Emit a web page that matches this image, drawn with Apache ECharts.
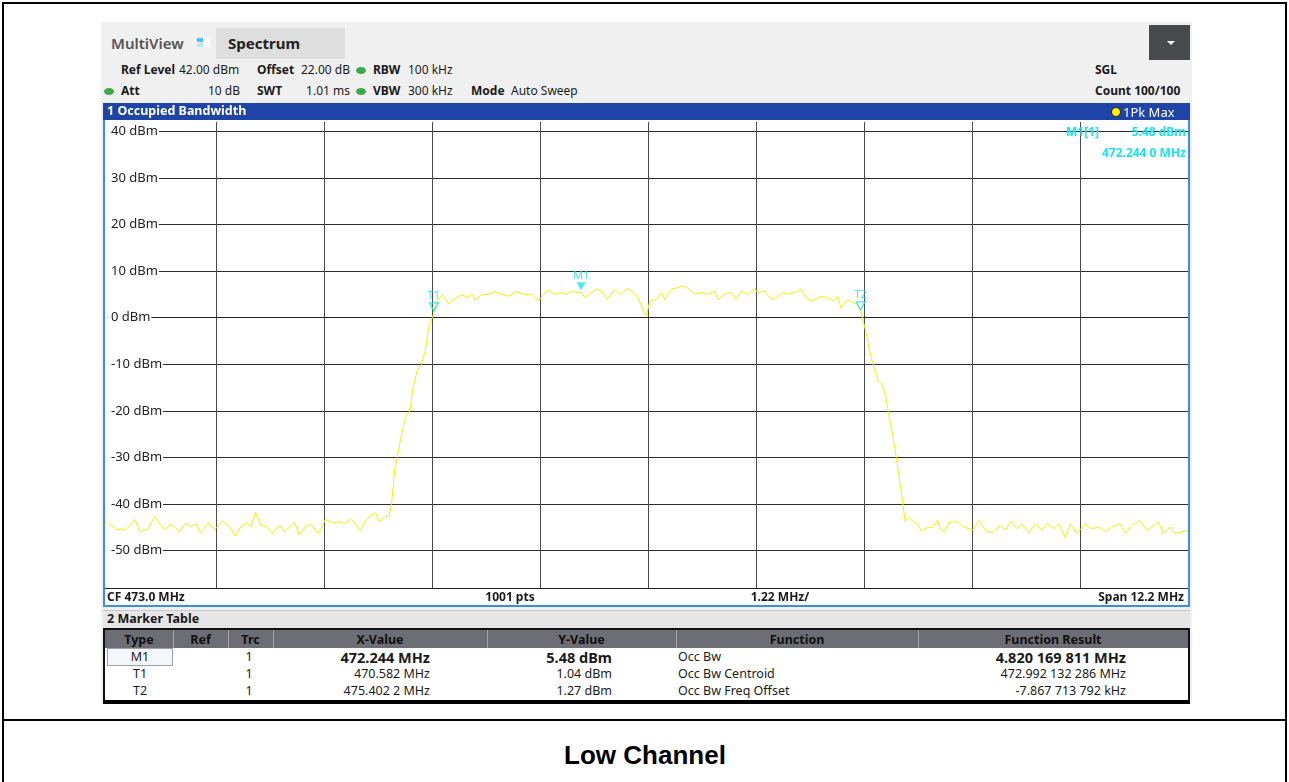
<!DOCTYPE html>
<html><head><meta charset="utf-8">
<script src="https://cdn.jsdelivr.net/npm/echarts@6/dist/echarts.min.js"></script>
<style>
html,body{margin:0;padding:0;}
body{width:1289px;height:782px;background:#fff;position:relative;overflow:hidden;font-family:'Noto Sans',sans-serif;}
.box{position:absolute;box-sizing:border-box;}
.t{position:absolute;white-space:nowrap;z-index:5;}
#chart{position:absolute;left:105px;top:120px;width:1083px;height:470px;z-index:3;}
</style></head><body>
<div class="box" style="left:2px;top:2px;width:1285px;height:800px;border:2px solid #000;"></div>
<div class="box" style="left:2px;top:719px;width:1285px;height:2px;background:#000;"></div>

<div class="box" style="left:101px;top:22px;width:1091px;height:682px;background:#f0f0f0;"></div>
<div class="box" style="left:216px;top:28px;width:129px;height:31px;background:#dedede;"></div>
<div class="box" style="left:197px;top:38px;width:6px;height:4px;background:#4fc3f7;"></div>
<div class="box" style="left:204px;top:38px;width:6px;height:4px;background:#fff;"></div>
<div class="box" style="left:197px;top:43px;width:6px;height:4px;background:#b9e6fb;"></div>
<div class="box" style="left:204px;top:43px;width:6px;height:4px;background:#fff;"></div>
<div class="box" style="left:1149px;top:25px;width:41px;height:35px;background:#474a4d;"></div>
<div class="box" style="left:1167px;top:41px;width:0;height:0;border-left:4px solid transparent;border-right:4px solid transparent;border-top:4px solid #fff;"></div>
<div class="box" style="left:356px;top:67px;width:10px;height:7px;border-radius:50%;background:#3daa48;"></div>
<div class="box" style="left:104px;top:88px;width:10px;height:7px;border-radius:50%;background:#3daa48;"></div>
<div class="box" style="left:356px;top:88px;width:10px;height:7px;border-radius:50%;background:#3daa48;"></div>

<div class="box" style="left:103px;top:103px;width:1087px;height:504px;border:2px solid #3d8ee0;background:#fff;"></div>
<div class="box" style="left:103px;top:103px;width:1087px;height:17px;background:#1d44a6;"></div>
<div class="box" style="left:1111px;top:107px;width:10px;height:10px;border-radius:50%;background:#fff200;border:1.5px solid #222;z-index:6;"></div>
<div class="box" style="left:105px;top:588px;width:1083px;height:1px;background:#222;"></div>

<div class="box" style="left:103px;top:610px;width:1087px;height:19px;background:#e6e6e6;border-top:1px solid #c8c8c8;"></div>
<div class="box" style="left:103px;top:628px;width:1087px;height:76px;border:2px solid #111;border-bottom:4px solid #000;background:#fff;"></div>
<div class="box" style="left:105px;top:630px;width:1083px;height:18px;background:#6d6d76;"></div>
<div class="box" style="left:107px;top:648px;width:66px;height:18px;border:1px solid #9aa3ad;background:#f3f7fb;"></div>

<div id="chart"></div>

<script>
// ---------- data ----------
var freqMHz = [466.900,466.990,467.103,467.204,467.260,467.351,467.429,467.497,467.542,467.610,467.711,467.779,467.835,467.891,467.948,468.027,468.105,468.195,468.274,468.342,468.398,468.466,468.511,468.567,468.624,468.702,468.759,468.838,468.894,468.950,469.007,469.063,469.130,469.187,469.277,469.356,469.435,469.513,469.581,469.637,469.694,469.750,469.806,469.863,469.919,469.964,470.020,470.077,470.091,470.103,470.141,470.167,470.204,470.260,470.310,470.344,470.392,470.441,470.486,470.524,470.553,470.582,470.598,470.674,470.749,470.806,470.899,470.955,471.012,471.049,471.124,471.200,471.274,471.331,471.425,471.519,471.594,471.688,471.763,471.820,471.876,471.950,472.026,472.082,472.138,472.195,472.244,472.288,472.364,472.420,472.476,472.533,472.626,472.682,472.777,472.833,472.890,472.946,472.983,473.020,473.096,473.152,473.189,473.265,473.321,473.397,473.471,473.527,473.603,473.678,473.753,473.791,473.865,473.941,473.997,474.053,474.129,474.203,474.241,474.316,474.372,474.428,474.523,474.579,474.654,474.729,474.786,474.861,474.954,475.030,475.086,475.143,475.180,475.255,475.312,475.368,475.402,475.424,475.461,475.518,475.555,475.600,475.650,475.687,475.724,475.762,475.799,475.837,475.875,475.904,475.949,476.006,476.044,476.089,476.156,476.213,476.269,476.306,476.351,476.400,476.494,476.569,476.663,476.738,476.813,476.889,476.982,477.039,477.095,477.170,477.227,477.301,477.376,477.452,477.508,477.583,477.639,477.714,477.771,477.846,477.939,478.015,478.090,478.165,478.240,478.334,478.390,478.466,478.559,478.635,478.691,478.766,478.822,478.897,478.954,479.029,479.100];
var levelDbm = [-44.0,-45.4,-45.5,-43.3,-45.9,-45.4,-42.6,-44.5,-45.5,-44.3,-45.9,-44.0,-44.9,-44.2,-46.3,-44.0,-45.5,-43.6,-44.9,-46.9,-44.9,-44.0,-44.9,-41.8,-44.5,-44.9,-46.3,-44.5,-45.9,-44.9,-44.0,-46.6,-44.9,-44.2,-46.4,-43.3,-44.0,-43.8,-44.2,-43.1,-44.2,-45.7,-43.6,-42.5,-41.8,-43.8,-42.8,-42.5,-42.7,-40.0,-32.1,-30.0,-26.2,-21.2,-20.0,-15.2,-11.4,-10.0,-6.9,-1.9,-0.5,1.04,2.9,5.0,2.9,3.9,5.0,4.3,5.0,3.7,5.0,5.0,5.6,5.1,4.6,5.6,5.0,5.0,3.6,5.0,5.9,5.0,5.4,5.0,5.7,5.4,5.48,4.3,5.4,6.1,5.7,3.9,6.1,5.0,6.3,5.4,4.3,1.4,0.4,3.6,3.9,5.4,3.9,6.1,6.4,6.8,6.1,5.0,5.4,5.0,5.7,3.9,5.0,5.4,3.9,5.7,5.0,6.3,5.4,5.7,4.3,3.9,5.4,5.0,5.4,6.1,4.3,3.6,4.6,4.3,3.6,4.6,2.1,3.9,3.2,2.9,1.27,-0.2,-3.0,-8.3,-10.7,-13.6,-14.6,-17.1,-21.4,-25.0,-29.3,-34.3,-39.3,-43.6,-42.9,-43.9,-44.3,-45.8,-45.0,-45.0,-43.5,-45.4,-46.0,-43.9,-43.8,-44.9,-45.6,-43.5,-45.6,-46.2,-44.6,-45.6,-43.7,-45.3,-44.2,-46.3,-44.2,-45.6,-44.2,-45.3,-44.2,-47.2,-44.2,-46.3,-44.2,-45.3,-44.9,-46.0,-44.9,-44.2,-46.3,-44.6,-43.5,-45.6,-44.9,-43.9,-46.3,-44.9,-46.3,-46.0,-45.6];

var yTicks = [-50,-40,-30,-20,-10,0,10,20,30,40];
var xGrid = [468.12,469.34,470.56,471.78,473.00,474.22,475.44,476.66,477.88];
var xMin = 466.9, xMax = 479.1, yMin = -58, yMax = 42;

var markerNames = ['T1','M1','T2'];
var markerFreqs = [470.582, 472.244, 475.4022];
var markerLevels = [1.04, 5.48, 1.27];
var markerHollow = [true, false, true];

var tableHeaders = ['Type','Ref','Trc','X-Value','Y-Value','Function','Function Result'];
var tableTypes = ['M1','T1','T2'];
var tableTrc = ['1','1','1'];
var tableX = ['472.244 MHz','470.582 MHz','475.402 2 MHz'];
var tableY = ['5.48 dBm','1.04 dBm','1.27 dBm'];
var tableFunc = ['Occ Bw','Occ Bw Centroid','Occ Bw Freq Offset'];
var tableResult = ['4.820 169 811 MHz','472.992 132 286 MHz','-7.867 713 792 kHz'];

// ---------- text helper ----------
function put(x, y, s, o) {
  o = o || {};
  var d = document.createElement('div');
  d.className = 't';
  d.textContent = s;
  d.style.fontSize = (o.fs || 12) + 'px';
  d.style.fontWeight = o.b ? '700' : (o.w || '400');
  d.style.color = o.c || '#1a1a1a';
  if (o.ff) d.style.fontFamily = o.ff;
  d.style.lineHeight = '20px';
  d.style.top = (y - 10) + 'px';
  if (o.a === 'r') { d.style.right = (1289 - x) + 'px'; }
  else if (o.a === 'c') { d.style.left = (x - 300) + 'px'; d.style.width = '600px'; d.style.textAlign = 'center'; }
  else { d.style.left = x + 'px'; }
  document.body.appendChild(d);
}

// header
put(111, 43, 'MultiView', {fs:15, w:'600', c:'#555'});
put(228, 43, 'Spectrum', {fs:15, b:true, c:'#222'});
put(121, 70, 'Ref Level', {b:true});
put(179, 70, '42.00 dBm');
put(257, 70, 'Offset', {b:true});
put(301, 70, '22.00 dB');
put(373, 70, 'RBW', {b:true});
put(408, 70, '100 kHz');
put(1095, 70, 'SGL', {b:true});
put(121, 91, 'Att', {b:true});
put(240, 91, '10 dB', {a:'r'});
put(257, 91, 'SWT', {b:true});
put(350, 91, '1.01 ms', {a:'r'});
put(373, 91, 'VBW', {b:true});
put(408, 91, '300 kHz');
put(471, 91, 'Mode', {b:true});
put(511, 91, 'Auto Sweep');
put(1095, 91, 'Count 100/100', {b:true});
put(107, 111, '1 Occupied Bandwidth', {b:true, c:'#fff', fs:12.5});
put(1123, 112, '1Pk Max', {c:'#fff', fs:13});
// marker readout
put(1066, 132, 'M1[1]', {b:true, c:'#19e3f2'});
put(1186, 132, '5.48 dBm', {b:true, c:'#19e3f2', a:'r'});
put(1186, 153, '472.244 0 MHz', {b:true, c:'#19e3f2', a:'r'});
// diagram footer
put(107, 597, 'CF 473.0 MHz', {b:true});
put(510, 597, '1001 pts', {b:true, a:'c'});
put(780, 597, '1.22 MHz/', {b:true, a:'c'});
put(1184, 597, 'Span 12.2 MHz', {b:true, a:'r'});
// marker table
put(107, 619, '2 Marker Table', {b:true, fs:12.5});
var colEdges = [105,173,228,273,487,676,918,1188];
for (var i = 1; i < colEdges.length - 1; i++) {
  var s = document.createElement('div');
  s.className = 'box';
  s.style.cssText = 'left:' + colEdges[i] + 'px;top:630px;width:1px;height:18px;background:#a4a4ac;';
  document.body.appendChild(s);
}
for (var i = 0; i < tableHeaders.length; i++) {
  put((colEdges[i] + colEdges[i + 1]) / 2, 640, tableHeaders[i], {b:true, a:'c', fs:12.5, c:'#111'});
}
var rowY = [657, 674, 691];
for (var r = 0; r < 3; r++) {
  var big = r === 0;
  put(140, rowY[r], tableTypes[r], {a:'c', fs:12.5});
  put(249, rowY[r], tableTrc[r], {a:'c', fs:12.5});
  put(430, rowY[r], tableX[r], {a:'r', fs: big ? 14.5 : 12.5, b: big});
  put(612, rowY[r], tableY[r], {a:'r', fs: big ? 14.5 : 12.5, b: big});
  put(678, rowY[r], tableFunc[r], {fs:12.5});
  put(1126, rowY[r], tableResult[r], {a:'r', fs: big ? 14.5 : 12.5, b: big});
}
put(645, 755, 'Low Channel', {a:'c', b:true, fs:26, ff:"'Liberation Sans', Arial, sans-serif", c:'#000'});

// ---------- chart ----------
var trace = freqMHz.map(function (f, i) { return [f, levelDbm[i]]; });
var markers = markerNames.map(function (n, i) {
  return {
    name: n,
    value: [markerFreqs[i], markerLevels[i]],
    itemStyle: markerHollow[i]
      ? {color: 'rgba(0,0,0,0)', borderColor: '#19e3f2', borderWidth: 1.3}
      : {color: '#19e3f2'}
  };
});

var chart = echarts.init(document.getElementById('chart'), null, {renderer: 'canvas'});
chart.setOption({
  animation: false,
  backgroundColor: 'transparent',
  grid: {left: 0, right: 0, top: 2, bottom: 2, containLabel: false},
  xAxis: {
    type: 'value', min: xMin, max: xMax,
    axisLine: {show: true, lineStyle: {color: '#222', width: 1}},
    axisTick: {show: false, customValues: xGrid},
    axisLabel: {show: false},
    splitLine: {show: true, lineStyle: {color: '#4a4a4a', width: 1}}
  },
  yAxis: [{
    type: 'value', min: yMin, max: yMax,
    axisLine: {show: false},
    axisTick: {show: false, customValues: yTicks},
    axisLabel: {show: false},
    splitLine: {show: true, lineStyle: {color: '#2e2e2e', width: 1}}
  }, {
    type: 'value', min: yMin, max: yMax, position: 'left', z: 10,
    axisLine: {show: false},
    axisTick: {show: false, customValues: yTicks},
    splitLine: {show: false},
    axisLabel: {
      show: true, inside: true, customValues: yTicks, margin: 0,
      formatter: function (v) { return v + ' dBm'; },
      color: '#222', fontSize: 13, fontFamily: 'Noto Sans',
      backgroundColor: '#fff', padding: [0, 1, 0, 3], verticalAlign: 'middle'
    }
  }],
  series: [{
    type: 'line', data: trace, showSymbol: false, z: 3,
    lineStyle: {color: '#f2f200', width: 1}, silent: true
  }, {
    type: 'scatter', data: markers, z: 4,
    symbol: 'triangle', symbolRotate: 180, symbolSize: [9, 8], symbolOffset: [0, -6],
    label: {show: true, position: 'top', distance: 1, formatter: '{b}', color: '#19e3f2', fontSize: 11, fontFamily: 'Noto Sans'},
    silent: true
  }]
});
</script>
</body></html>
